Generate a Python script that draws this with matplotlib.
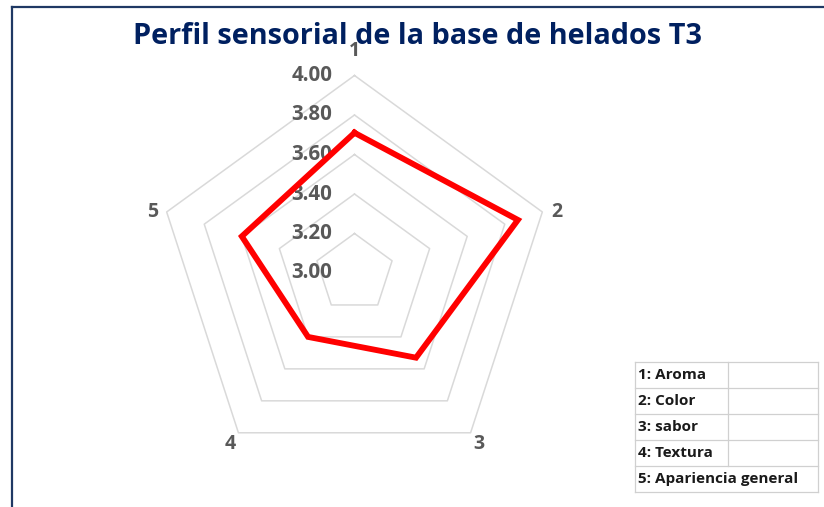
import numpy as np
import matplotlib
matplotlib.use("Agg")
import matplotlib.pyplot as plt
import matplotlib.transforms as mtransforms
from matplotlib.lines import Line2D

plt.rcParams['font.family'] = ['Open Sans', 'DejaVu Sans']

# data
categories = ['1', '2', '3', '4', '5']
values = [3.71, 3.87, 3.53, 3.40, 3.60]
ring_values = [3.2, 3.4, 3.6, 3.8, 4.0]
tick_values = [3.0, 3.2, 3.4, 3.6, 3.8, 4.0]
tick_labels = ['3.00', '3.20', '3.40', '3.60', '3.80', '4.00']
legend_rows = ['1: Aroma', '2: Color', '3: sabor', '4: Textura', '5: Apariencia general']

title = 'Perfil sensorial de la base de helados T3'
navy = '#002060'
grey_txt = '#595959'

W, H = 824, 507
fig = plt.figure(figsize=(W / 100, H / 100), dpi=100)

cx, cy, R = 354.5, 273, 197.5
ax = fig.add_axes([(cx - R) / W, (H - cy - R) / H, 2 * R / W, 2 * R / H],
                  projection='polar')
ax.set_theta_offset(np.pi / 2)
ax.set_theta_direction(-1)
ax.set_ylim(3.0, 4.0)
ax.grid(False)
ax.spines['polar'].set_visible(False)
ax.set_yticks([])
ax.set_xticks([])

theta = np.linspace(0, 2 * np.pi, len(categories), endpoint=False)
theta_c = np.append(theta, theta[0])

# pentagon rings
for rv in ring_values:
    ax.plot(theta_c, [rv] * len(theta_c), color='#d9d9d9', lw=1.1,
            clip_on=False, zorder=1)

# series
vals = values + values[:1]
ax.plot(theta_c, vals, color='#ff0000', lw=4.2, clip_on=False,
        solid_joinstyle='miter', zorder=3)

# category labels just outside the outer ring
lab_pad = [24, 15, 14, 14, 15]
for th, lab, d in zip(theta, categories, lab_pad):
    dx, dy = d * np.sin(th), d * np.cos(th)
    if abs(dy) < 8:
        dy = 0
    tr = mtransforms.offset_copy(ax.transData, fig=fig, x=dx, y=dy, units='dots')
    ax.text(th, ring_values[-1], lab, transform=tr, ha='center', va='center',
            fontsize=14, fontweight='bold', color=grey_txt, clip_on=False, zorder=0)

# radial value labels, left of the top spoke
off = mtransforms.offset_copy(ax.transData, fig=fig, x=-22, y=0, units='dots')
for tv, tl in zip(tick_values, tick_labels):
    ax.text(0, tv, tl, transform=off, ha='right', va='center',
            fontsize=14.8, fontweight='bold', color=grey_txt, zorder=2)

# title
fig.text(417 / W, 1 - 37 / H, title, ha='center', va='center',
         fontsize=20.8, fontweight='bold', color=navy, zorder=5)

# chart border (top and left visible)
fig.add_artist(Line2D([12 / W, 12 / W], [0, 1 - 7 / H], transform=fig.transFigure,
                      color='#1f3864', lw=1.6))
fig.add_artist(Line2D([12 / W, 1], [1 - 7 / H, 1 - 7 / H], transform=fig.transFigure,
                      color='#1f3864', lw=1.6))

# category key table
x0, x1, xm = 635, 818, 728
y0, rh = 362, 26
gcol = '#d0d0d0'
for i in range(len(legend_rows) + 1):
    y = y0 + i * rh
    fig.add_artist(Line2D([x0 / W, x1 / W], [1 - y / H, 1 - y / H],
                          transform=fig.transFigure, color=gcol, lw=0.9))
ytop, ybot = y0, y0 + rh * len(legend_rows)
for x in (x0, x1):
    fig.add_artist(Line2D([x / W, x / W], [1 - ytop / H, 1 - ybot / H],
                          transform=fig.transFigure, color=gcol, lw=0.9))
fig.add_artist(Line2D([xm / W, xm / W], [1 - ytop / H, 1 - (ybot - rh) / H],
                      transform=fig.transFigure, color=gcol, lw=0.9))
for i, row in enumerate(legend_rows):
    fig.text((x0 + 3) / W, 1 - (y0 + (i + 0.5) * rh) / H, row, ha='left',
             va='center', fontsize=11, fontweight='bold', color='#1a1a1a')

fig.savefig('out.png', dpi=100, facecolor='white')
